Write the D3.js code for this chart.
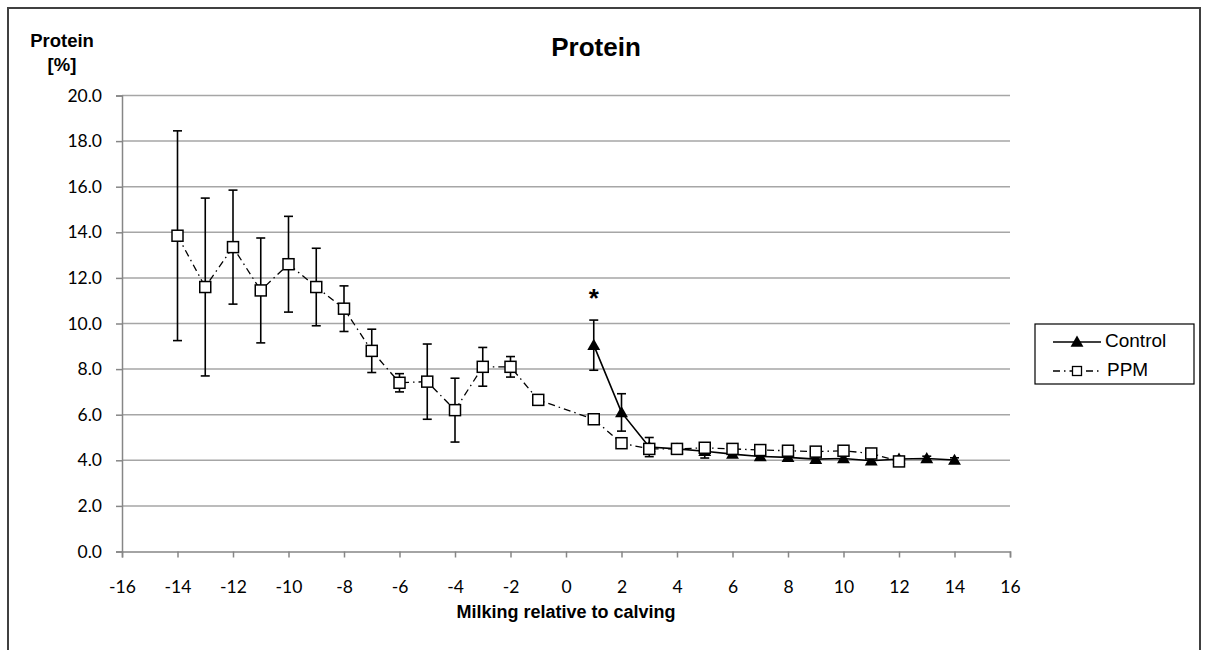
<!DOCTYPE html>
<html>
<head>
<meta charset="utf-8">
<script src="https://cdn.jsdelivr.net/npm/d3@7"></script>
<style>
  body { margin: 0; background: #fff; }
  svg { display: block; }
</style>
</head>
<body>
<div id="chart"></div>
<script>
// Data
var ppmX = [-14, -13, -12, -11, -10, -9, -8, -7, -6, -5, -4, -3, -2, -1, 1, 2, 3, 4, 5, 6, 7, 8, 9, 10, 11, 12];
var ppmY = [13.85, 11.6, 13.35, 11.45, 12.6, 11.6, 10.65, 8.8, 7.4, 7.45, 6.2, 8.1, 8.1, 6.65, 5.8, 4.75, 4.5, 4.5, 4.55, 4.5, 4.45, 4.42, 4.38, 4.42, 4.3, 3.95];
var ppmErr = [4.6, 3.9, 2.5, 2.3, 2.1, 1.7, 1.0, 0.95, 0.4, 1.65, 1.4, 0.85, 0.45, 0.1, 0.1, 0.1, 0.1, 0.1, 0.1, 0.1, 0.1, 0.1, 0.1, 0.1, 0.1, 0.1];

var ctrlX = [1, 2, 3, 4, 5, 6, 7, 8, 9, 10, 11, 12, 13, 14];
var ctrlY = [9.05, 6.1, 4.58, 4.5, 4.4, 4.27, 4.17, 4.13, 4.05, 4.08, 3.98, 4.06, 4.08, 4.01];
var ctrlErr = [1.1, 0.82, 0.42, 0.12, 0.3, 0.1, 0.1, 0.1, 0.1, 0.1, 0.1, 0.1, 0.1, 0.1];

var xTicks = d3.range(-16, 17, 2);
var yTicks = d3.range(0, 20.1, 2);

// significance mark
var starX = 1, starY = 11.3;

var svgWidth = 1210;
var svgHeight = 650;
var margin = { top: 95.5, right: 200, bottom: 98.5, left: 122 };
var chartWidth = svgWidth - margin.left - margin.right;
var chartHeight = svgHeight - margin.top - margin.bottom;

var svg = d3.select("#chart")
  .append("svg")
  .attr("width", svgWidth)
  .attr("height", svgHeight);

// outer frame
svg.append("rect")
  .attr("x", 8).attr("y", 8)
  .attr("width", 1192).attr("height", 700)
  .attr("fill", "none")
  .attr("stroke", "#404040")
  .attr("stroke-width", 2);

var chartGroup = svg.append("g")
  .attr("transform", `translate(${margin.left}, ${margin.top})`);

var xScale = d3.scaleLinear().domain([-16, 16]).range([0, chartWidth]);
var yScale = d3.scaleLinear().domain([0, 20]).range([chartHeight, 0]);

// gridlines
chartGroup.append("g")
  .selectAll("line")
  .data(yTicks.filter(d => d > 0))
  .join("line")
  .attr("x1", 0).attr("x2", chartWidth)
  .attr("y1", d => yScale(d)).attr("y2", d => yScale(d))
  .attr("stroke", "#a6a6a6")
  .attr("stroke-width", 1.5);

// axes
var leftAxis = d3.axisLeft(yScale).tickValues(yTicks).tickFormat(d3.format(".1f")).tickSize(6).tickPadding(14);
var bottomAxis = d3.axisBottom(xScale).tickValues(xTicks).tickSize(6).tickPadding(23);

var yAxisG = chartGroup.append("g").call(leftAxis);
var xAxisG = chartGroup.append("g")
  .attr("transform", "translate(0, " + chartHeight + ")")
  .call(bottomAxis);

[yAxisG, xAxisG].forEach(function(g) {
  g.select(".domain").attr("stroke", "#868686").attr("stroke-width", 1.5);
  g.selectAll(".tick line").attr("stroke", "#868686").attr("stroke-width", 1.5);
  g.selectAll(".tick text")
    .attr("fill", "#000")
    .style("font-family", "Lato, 'Open Sans', sans-serif")
    .style("font-size", "17.5px");
});
xAxisG.selectAll(".tick text").text(d => d);

// error bars
function drawErrors(xs, ys, es) {
  var data = xs.map((x, i) => ({ x: x, y: ys[i], e: es[i] }));
  var g = chartGroup.append("g").attr("stroke", "#000").attr("stroke-width", 1.6);
  g.selectAll("line.v").data(data).join("line")
    .attr("x1", d => xScale(d.x)).attr("x2", d => xScale(d.x))
    .attr("y1", d => yScale(d.y + d.e)).attr("y2", d => yScale(d.y - d.e));
  g.selectAll("line.t").data(data).join("line")
    .attr("x1", d => xScale(d.x) - 4.5).attr("x2", d => xScale(d.x) + 4.5)
    .attr("y1", d => yScale(d.y + d.e)).attr("y2", d => yScale(d.y + d.e));
  g.selectAll("line.b").data(data).join("line")
    .attr("x1", d => xScale(d.x) - 4.5).attr("x2", d => xScale(d.x) + 4.5)
    .attr("y1", d => yScale(d.y - d.e)).attr("y2", d => yScale(d.y - d.e));
}

var line = d3.line().x(d => xScale(d[0])).y(d => yScale(d[1]));
var triangle = d3.symbol().type(d3.symbolTriangle).size(72);

// Control series
drawErrors(ctrlX, ctrlY, ctrlErr);
chartGroup.append("path")
  .attr("d", line(ctrlX.map((x, i) => [x, ctrlY[i]])))
  .attr("fill", "none")
  .attr("stroke", "#000")
  .attr("stroke-width", 1.6);
chartGroup.append("g")
  .selectAll("path")
  .data(ctrlX.map((x, i) => [x, ctrlY[i]]))
  .join("path")
  .attr("d", triangle)
  .attr("transform", d => `translate(${xScale(d[0])}, ${yScale(d[1]) + 1})`)
  .attr("fill", "#000");

// PPM series
drawErrors(ppmX, ppmY, ppmErr);
chartGroup.append("path")
  .attr("d", line(ppmX.map((x, i) => [x, ppmY[i]])))
  .attr("fill", "none")
  .attr("stroke", "#000")
  .attr("stroke-width", 1.3)
  .attr("stroke-dasharray", "7,4,1.5,4");
chartGroup.append("g")
  .selectAll("rect")
  .data(ppmX.map((x, i) => [x, ppmY[i]]))
  .join("rect")
  .attr("x", d => xScale(d[0]) - 5.5)
  .attr("y", d => yScale(d[1]) - 5.5)
  .attr("width", 11).attr("height", 11)
  .attr("fill", "#fff")
  .attr("stroke", "#000")
  .attr("stroke-width", 1.5);

// asterisk
chartGroup.append("text")
  .attr("x", xScale(starX))
  .attr("y", yScale(starY) + 6)
  .attr("text-anchor", "middle")
  .attr("dominant-baseline", "middle")
  .style("font-family", "'Liberation Sans', Arial, sans-serif")
  .style("font-weight", "bold")
  .style("font-size", "26px")
  .text("*");

// titles
svg.append("text")
  .attr("x", 596).attr("y", 56)
  .attr("text-anchor", "middle")
  .style("font-family", "'Liberation Sans', Arial, sans-serif")
  .style("font-weight", "bold")
  .style("font-size", "26px")
  .text("Protein");

svg.append("text")
  .attr("x", 62).attr("y", 47)
  .attr("text-anchor", "middle")
  .style("font-family", "'Liberation Sans', Arial, sans-serif")
  .style("font-weight", "bold")
  .style("font-size", "18.5px")
  .text("Protein");
svg.append("text")
  .attr("x", 62).attr("y", 71)
  .attr("text-anchor", "middle")
  .style("font-family", "'Liberation Sans', Arial, sans-serif")
  .style("font-weight", "bold")
  .style("font-size", "18.5px")
  .text("[%]");

svg.append("text")
  .attr("x", margin.left + chartWidth / 2).attr("y", 618)
  .attr("text-anchor", "middle")
  .style("font-family", "'Liberation Sans', Arial, sans-serif")
  .style("font-weight", "bold")
  .style("font-size", "18px")
  .text("Milking relative to calving");

// legend
var legend = svg.append("g").attr("transform", "translate(1035, 324)");
legend.append("rect")
  .attr("width", 159).attr("height", 60)
  .attr("fill", "#fff").attr("stroke", "#000").attr("stroke-width", 1.2);

legend.append("line")
  .attr("x1", 18).attr("x2", 66).attr("y1", 18).attr("y2", 18)
  .attr("stroke", "#000").attr("stroke-width", 1.6);
legend.append("path")
  .attr("d", triangle)
  .attr("transform", "translate(42, 19)")
  .attr("fill", "#000");
legend.append("text")
  .attr("x", 70).attr("y", 18)
  .attr("dominant-baseline", "middle")
  .style("font-family", "'Liberation Sans', Arial, sans-serif")
  .style("font-size", "19px")
  .text("Control");

legend.append("line")
  .attr("x1", 18).attr("x2", 66).attr("y1", 47).attr("y2", 47)
  .attr("stroke", "#000").attr("stroke-width", 1.3)
  .attr("stroke-dasharray", "7,4,1.5,4");
legend.append("rect")
  .attr("x", 37.5).attr("y", 42.5).attr("width", 9).attr("height", 9)
  .attr("fill", "#fff").attr("stroke", "#000").attr("stroke-width", 1.3);
legend.append("text")
  .attr("x", 72).attr("y", 47)
  .attr("dominant-baseline", "middle")
  .style("font-family", "'Liberation Sans', Arial, sans-serif")
  .style("font-size", "19px")
  .text("PPM");
</script>
</body>
</html>
